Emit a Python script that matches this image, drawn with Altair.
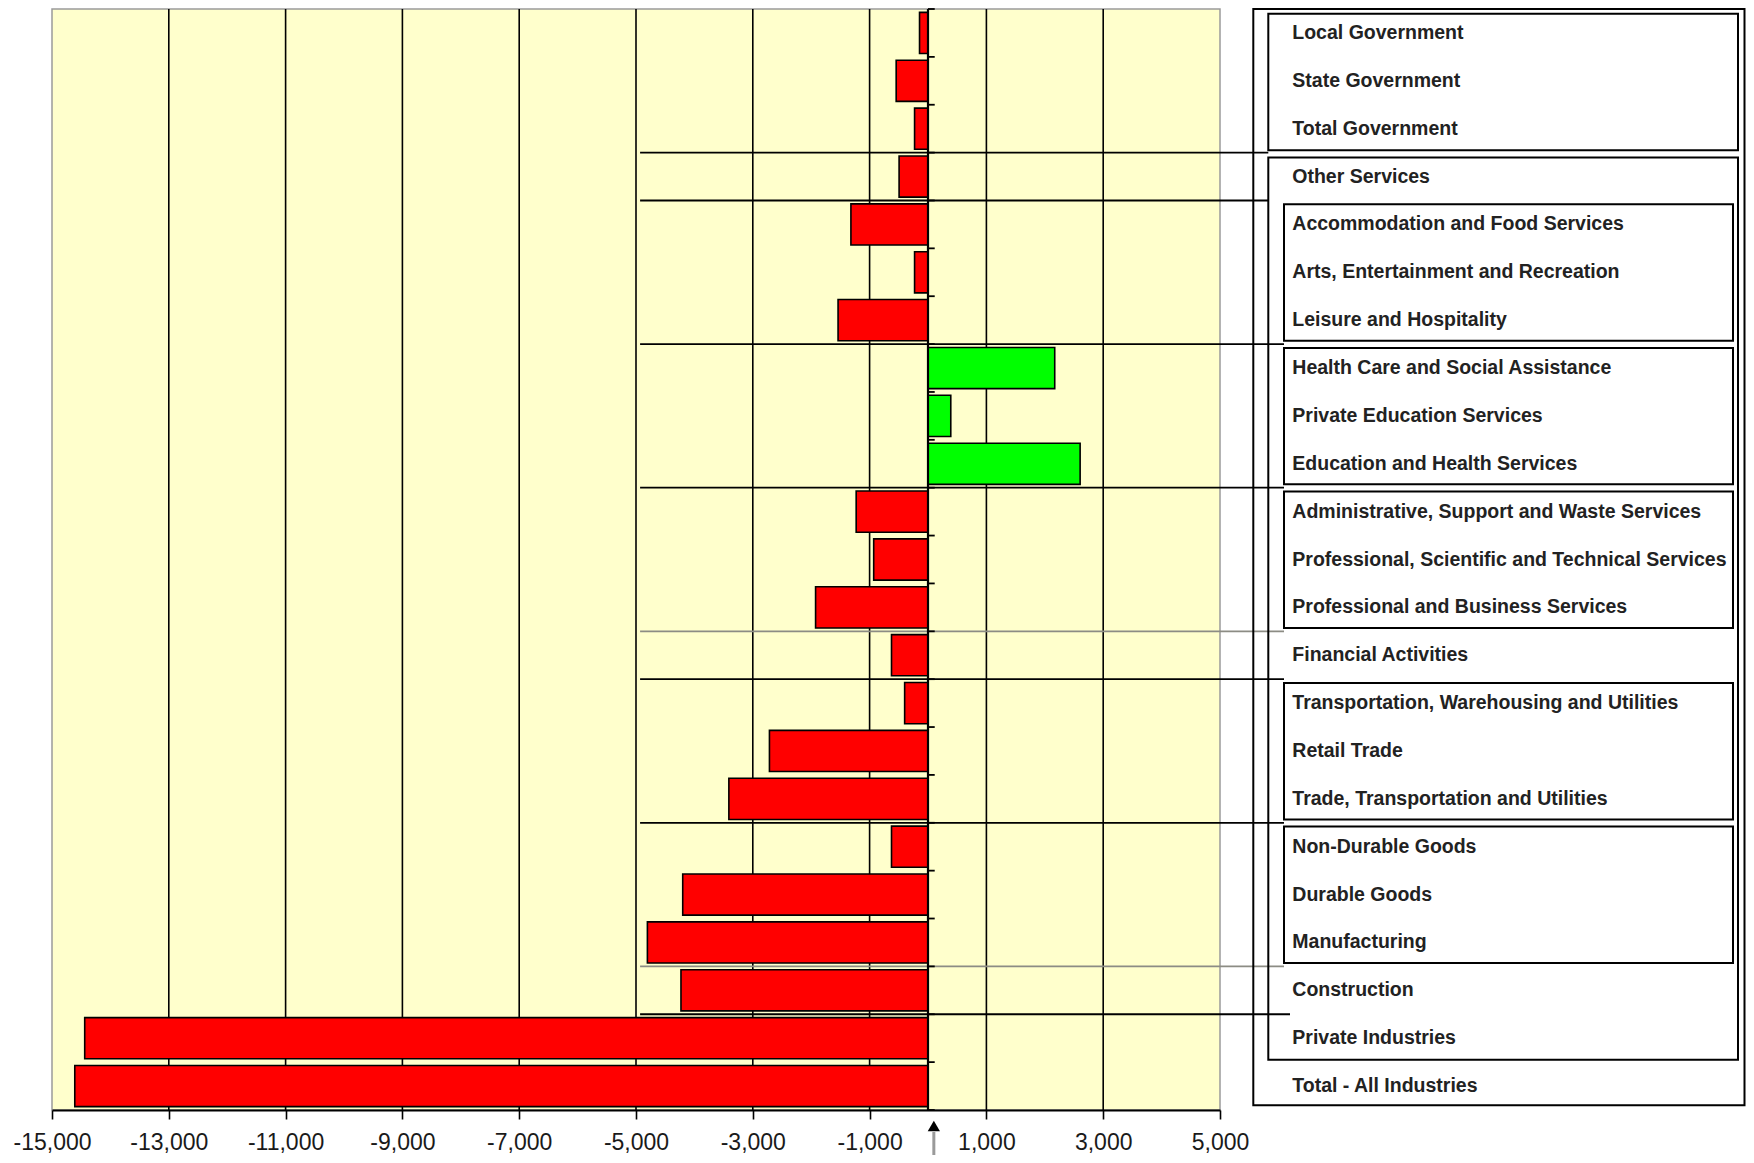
import altair as alt
import pandas as pd

# ---------------- data ----------------
categories = [
    "Local Government", "State Government", "Total Government", "Other Services",
    "Accommodation and Food Services", "Arts, Entertainment and Recreation",
    "Leisure and Hospitality", "Health Care and Social Assistance",
    "Private Education Services", "Education and Health Services",
    "Administrative, Support and Waste Services",
    "Professional, Scientific and Technical Services",
    "Professional and Business Services", "Financial Activities",
    "Transportation,  Warehousing and Utilities", "Retail Trade",
    "Trade, Transportation and Utilities", "Non-Durable Goods", "Durable Goods",
    "Manufacturing", "Construction", "Private Industries", "Total - All Industries",
]
values = [
    -145, -545, -230, -495, -1320, -230, -1540, 2170, 390, 2605, -1230, -930,
    -1925, -625, -400, -2715, -3410, -625, -4200, -4805, -4230, -14440, -14610,
]
tick_values = [-15000, -13000, -11000, -9000, -7000, -5000, -3000, -1000, 1000, 3000, 5000]
grid_values = [-13000, -11000, -9000, -7000, -5000, -3000, -1000, 1000, 3000]

# grouping structure of the label panel (first row, last row)
level2_groups = [(0, 2), (3, 21)]
level3_groups = [(4, 6), (7, 9), (10, 12), (14, 16), (17, 19)]
# separators: (row boundary, reaches to, grey?)
separators = [(3, "l2", False), (4, "l2", False), (7, "l3", False), (10, "l3", False),
              (13, "l3", True), (14, "l3", False), (17, "l3", False), (20, "l3", True),
              (21, "open", False)]

# ---------------- layout ----------------
W, H = 1168, 1101
XMIN, XMAX = -15000, 5000
N = len(categories)


def px_to_x(p):
    return XMIN + p / W * (XMAX - XMIN)


OUTER_L, OUTER_R = 1201.3, 1692.5
L2_L, L2_R = 1216.3, 1686
L3_L, L3_R = 1232, 1681
TEXT_X = 1240.3
ends = {"l2": L2_L, "l3": L3_L, "open": 1238}

xscale = alt.Scale(domain=[XMIN, XMAX], nice=False, zero=False)
yscale = alt.Scale(domain=[0, N], reverse=True, nice=False, zero=False)

bars = pd.DataFrame({
    "name": categories,
    "value": values,
    "y0": [i + 0.07 for i in range(N)],
    "y1": [i + 0.93 for i in range(N)],
    "ym": [i + 0.5 for i in range(N)],
    "zero": [0] * N,
})

grid_df = pd.DataFrame({"g": grid_values})
tick_df = pd.DataFrame({"b": list(range(N + 1))})
sep_df = pd.DataFrame({
    "b": [s[0] for s in separators],
    "xs": [-4930] * len(separators),
    "xe": [px_to_x(ends[s[1]]) for s in separators],
    "col": ["#8c8c84" if s[2] else "#000000" for s in separators],
})

boxes = [(px_to_x(OUTER_L), px_to_x(OUTER_R), 0.0, N - 0.1)]
boxes += [(px_to_x(L2_L), px_to_x(L2_R), a + 0.1, b + 1 - 0.05) for a, b in level2_groups]
boxes += [(px_to_x(L3_L), px_to_x(L3_R), a + 0.08, b + 1 - 0.07) for a, b in level3_groups]
box_df = pd.DataFrame({
    "x0": [b[0] for b in boxes], "x1": [b[1] for b in boxes],
    "y0": [b[2] for b in boxes], "y1": [b[3] for b in boxes],
})

one = pd.DataFrame({"a": [0]})

xaxis = alt.Axis(
    values=tick_values,
    labelExpr="(datum.value < 0 ? '-' : '') + format(abs(datum.value), ',')",
    title=None, grid=False, domain=True, domainColor="#000000", domainWidth=2,
    ticks=True, tickColor="#000000", tickSize=9, tickWidth=1.6,
    labelFont="Liberation Sans", labelFontSize=23, labelColor="#1a1a1a",
    labelPadding=12, labelFlush=False, labelOverlap=False, labelBound=False,
)

grid = alt.Chart(grid_df).mark_rule(color="#000000", strokeWidth=1.6).encode(
    x=alt.X("g:Q", scale=xscale, axis=xaxis)
)

seps = alt.Chart(sep_df).mark_rule(strokeWidth=1.8).encode(
    x=alt.X("xs:Q", scale=xscale, axis=xaxis),
    x2="xe:Q",
    y=alt.Y("b:Q", scale=yscale, axis=None),
    color=alt.Color("col:N", scale=None, legend=None),
)

barl = alt.Chart(bars).mark_bar(stroke="#000000", strokeWidth=1.6).encode(
    x=alt.X("value:Q", scale=xscale, axis=xaxis),
    x2="zero:Q",
    y=alt.Y("y0:Q", scale=yscale, axis=None),
    y2="y1:Q",
    fill=alt.condition(alt.datum.value > 0, alt.value("#00FF00"), alt.value("#FF0000")),
)

zero_line = alt.Chart(one).mark_rule(color="#000000", strokeWidth=2.2).encode(
    x=alt.X(datum=0, scale=xscale, axis=xaxis)
)

row_ticks = alt.Chart(tick_df).mark_rule(color="#000000", strokeWidth=1.8).encode(
    x=alt.X(datum=0, scale=xscale, axis=xaxis),
    x2=alt.X2(datum=115),
    y=alt.Y("b:Q", scale=yscale, axis=None),
)

box_layer = alt.Chart(box_df).mark_rect(
    fill="#ffffff", fillOpacity=0, stroke="#000000", strokeWidth=2
).encode(
    x=alt.X("x0:Q", scale=xscale, axis=xaxis), x2="x1:Q",
    y=alt.Y("y0:Q", scale=yscale, axis=None), y2="y1:Q",
)

labels = alt.Chart(bars).mark_text(
    align="left", baseline="middle", font="Liberation Sans", fontSize=19.5,
    fontWeight="bold", color="#222222"
).encode(
    x=alt.value(TEXT_X),
    y=alt.Y("ym:Q", scale=yscale, axis=None),
    text="name:N",
)

arrow_shaft = alt.Chart(one).mark_rule(color="#9a9a9a", strokeWidth=3).encode(
    x=alt.X(datum=100, scale=xscale, axis=xaxis),
    y=alt.value(1123), y2=alt.value(1160),
)
arrow_head = alt.Chart(one).mark_point(
    shape="triangle-up", filled=True, color="#000000", size=150, opacity=1
).encode(
    x=alt.X(datum=100, scale=xscale, axis=xaxis),
    y=alt.value(1117),
)

chart = alt.layer(
    grid, seps, barl, zero_line, row_ticks, box_layer, labels, arrow_shaft, arrow_head
).properties(
    width=W, height=H,
    autosize=alt.AutoSizeParams(type="none"),
    padding={"left": 44, "top": 1, "right": 526, "bottom": 45},
).configure_view(
    fill="#FFFFCC", stroke="#9a9a9a", strokeWidth=1.5
)

chart.save("out.html", embed_options={"renderer": "svg", "actions": False})
